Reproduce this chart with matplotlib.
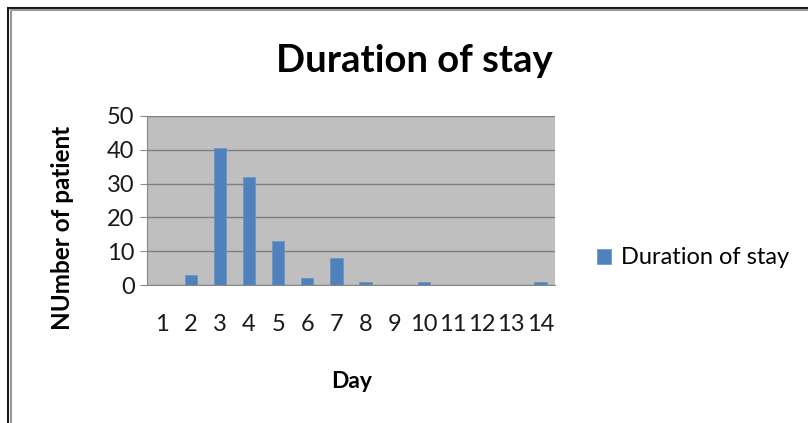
import matplotlib
matplotlib.use("Agg")
import matplotlib.pyplot as plt
from matplotlib.patches import Rectangle

days = ["1", "2", "3", "4", "5", "6", "7", "8", "9", "10", "11", "12", "13", "14"]
counts = [0, 3, 40.6, 32, 13, 2, 8, 1, 0, 1, 0, 0, 0, 1]
yticks = [0, 10, 20, 30, 40, 50]
series_name = "Duration of stay"
title = "Duration of stay"
xlabel = "Day"
ylabel = "NUmber of patient"

plt.rcParams['font.family'] = ['Lato', 'DejaVu Sans']

W, H = 808, 423
fig = plt.figure(figsize=(W / 100, H / 100), dpi=100)
fig.patch.set_facecolor("white")

# outer frame (double line, extends past right/bottom)
fig.add_artist(Rectangle((8 / W, -0.1), 1.2, (H - 8) / H + 0.1, transform=fig.transFigure,
                         fill=False, edgecolor="#1a1a1a", linewidth=1.5))
fig.add_artist(Rectangle((10.5 / W, -0.1), 1.2, (H - 10.5) / H + 0.1, transform=fig.transFigure,
                         fill=False, edgecolor="#999999", linewidth=1.5))

left, right, top, bottom = 147, 555, 116, 285
ax = fig.add_axes([left / W, 1 - bottom / H, (right - left) / W, (bottom - top) / H])
ax.set_facecolor("#BFBFBF")
x = list(range(len(days)))
ax.bar(x, counts, width=0.42, color="#4F81BD", edgecolor="#6A93C8", linewidth=0.5,
       label=series_name, zorder=3)
ax.set_xlim(-0.5, len(days) - 0.5)
ax.set_ylim(0, 50)
ax.set_yticks(yticks)
ax.set_yticklabels([str(v) for v in yticks])
ax.set_xticks(x)
ax.set_xticklabels(days)
ax.yaxis.grid(True, color="#7F7F7F", linewidth=1.0, zorder=1)
ax.set_axisbelow(True)
for s in ["top", "right"]:
    ax.spines[s].set_visible(False)
ax.spines["left"].set_color("#888888")
ax.spines["bottom"].set_color("#888888")
ax.tick_params(axis="y", length=5, color="#888888", labelsize=17, pad=4, labelcolor="#1a1a1a")
ax.tick_params(axis="x", length=0, labelsize=17, pad=21, labelcolor="#1a1a1a")

fig.text(414 / W, 1 - 61 / H, title, ha="center", va="center", fontsize=27.5, fontweight="bold",
         color="#000000")
fig.text(352 / W, 1 - 381 / H, xlabel, ha="center", va="center", fontsize=16.5, fontweight="bold")
fig.text(63 / W, 1 - 228 / H, ylabel, ha="center", va="center", rotation=90, fontsize=17.5,
         fontweight="bold")

handles, labels = ax.get_legend_handles_labels()
leg = fig.legend(handles, labels, loc="center left", bbox_to_anchor=(597 / W, 1 - 258 / H),
                 frameon=False, fontsize=17, handlelength=0.6, handleheight=0.6,
                 handletextpad=0.4, borderpad=0, borderaxespad=0)

fig.savefig("out.png", dpi=100)
